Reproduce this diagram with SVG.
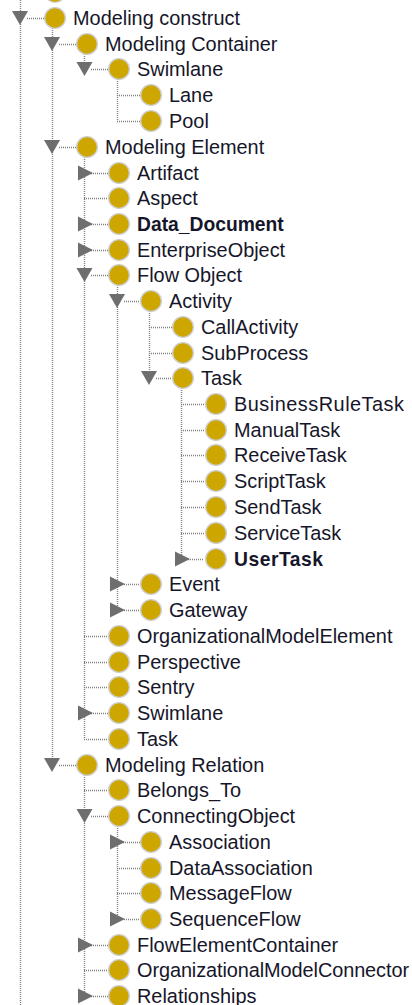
<svg xmlns="http://www.w3.org/2000/svg" width="412" height="1005" viewBox="0 0 412 1005">
<style>
text{font-family:"Liberation Sans",Arial,sans-serif;font-size:19.9px;fill:#16162a}
.b{font-weight:bold;font-size:19.3px}
.l{stroke:#808080;stroke-width:1.4;stroke-dasharray:1 1;fill:none}
.c{fill:#cea600;stroke:#cfcfcf;stroke-width:1.4}
.t{fill:#6e6e6e}
</style>
<defs>
<circle id="o" class="c" r="10.4"/>
<polygon id="d" class="t" points="-8,-7 8,-7 0,7"/>
<polygon id="r" class="t" points="-6,-7.500 -6,7.500 9,0"/>
</defs>
<rect width="412" height="1005" fill="#fff"/>
<g id="connectors" class="l">
<path d="M20.500 0V1005M52.500 24V765M84.500 44V69M84.500 147V739M84.500 765V996M117.500 69V121M117.500 275V610M117.500 816V919M149.500 301V378M181.500 378V559"/>
<path d="M27 18.500H44M59 44.500H76M91 69.500H108M117 95.500H140M117 121.500H140M59 147.500H76M91 173.500H108M84 198.500H108M91 224.500H108M91 250.500H108M91 275.500H108M124 301.500H140M149 327.500H172M149 353.500H172M156 378.500H172M181 404.500H204M181 430.500H204M181 455.500H204M181 481.500H204M181 507.500H204M181 533.500H204M188 559.500H204M124 584.500H140M124 610.500H140M84 636.500H108M84 662.500H108M84 687.500H108M91 713.500H108M84 739.500H108M59 765.500H76M84 790.500H108M91 816.500H108M117 842.500H140M117 868.500H140M117 893.500H140M124 919.500H140M91 945.500H108M84 970.500H108M91 996.500H108"/>
</g>
<g id="n0"><use href="#o" x="55" y="-8"/></g>
<g id="n1"><use href="#d" x="20" y="18"/><use href="#o" x="55" y="18"/><text x="73" y="25">Modeling construct</text></g>
<g id="n2"><use href="#d" x="52" y="44"/><use href="#o" x="87" y="44"/><text x="105" y="51">Modeling Container</text></g>
<g id="n3"><use href="#d" x="84.500" y="69"/><use href="#o" x="119" y="69"/><text x="137" y="76">Swimlane</text></g>
<g id="n4"><use href="#o" x="151" y="95"/><text x="169" y="102">Lane</text></g>
<g id="n5"><use href="#o" x="151" y="121"/><text x="169" y="128">Pool</text></g>
<g id="n6"><use href="#d" x="52" y="147"/><use href="#o" x="87" y="147"/><text x="105" y="154">Modeling Element</text></g>
<g id="n7"><use href="#r" x="84" y="173"/><use href="#o" x="119" y="173"/><text x="137" y="180">Artifact</text></g>
<g id="n8"><use href="#o" x="119" y="198"/><text x="137" y="205">Aspect</text></g>
<g id="n9"><use href="#r" x="84" y="224"/><use href="#o" x="119" y="224"/><text x="137" y="231" class="b">Data_Document</text></g>
<g id="n10"><use href="#r" x="84" y="250"/><use href="#o" x="119" y="250"/><text x="137" y="257">EnterpriseObject</text></g>
<g id="n11"><use href="#d" x="84.500" y="275"/><use href="#o" x="119" y="275"/><text x="137" y="282">Flow Object</text></g>
<g id="n12"><use href="#d" x="117" y="301"/><use href="#o" x="151" y="301"/><text x="169" y="308">Activity</text></g>
<g id="n13"><use href="#o" x="183" y="327"/><text x="201" y="334">CallActivity</text></g>
<g id="n14"><use href="#o" x="183" y="353"/><text x="201" y="360">SubProcess</text></g>
<g id="n15"><use href="#d" x="149" y="378"/><use href="#o" x="183" y="378"/><text x="201" y="385">Task</text></g>
<g id="n16"><use href="#o" x="216" y="404"/><text x="234" y="411" textLength="170">BusinessRuleTask</text></g>
<g id="n17"><use href="#o" x="216" y="430"/><text x="234" y="437">ManualTask</text></g>
<g id="n18"><use href="#o" x="216" y="455"/><text x="234" y="462">ReceiveTask</text></g>
<g id="n19"><use href="#o" x="216" y="481"/><text x="234" y="488">ScriptTask</text></g>
<g id="n20"><use href="#o" x="216" y="507"/><text x="234" y="514">SendTask</text></g>
<g id="n21"><use href="#o" x="216" y="533"/><text x="234" y="540">ServiceTask</text></g>
<g id="n22"><use href="#r" x="181" y="559"/><use href="#o" x="216" y="559"/><text x="234" y="566" class="b" textLength="89">UserTask</text></g>
<g id="n23"><use href="#r" x="116" y="584"/><use href="#o" x="151" y="584"/><text x="169" y="591">Event</text></g>
<g id="n24"><use href="#r" x="116" y="610"/><use href="#o" x="151" y="610"/><text x="169" y="617">Gateway</text></g>
<g id="n25"><use href="#o" x="119" y="636"/><text x="137" y="643">OrganizationalModelElement</text></g>
<g id="n26"><use href="#o" x="119" y="662"/><text x="137" y="669">Perspective</text></g>
<g id="n27"><use href="#o" x="119" y="687"/><text x="137" y="694">Sentry</text></g>
<g id="n28"><use href="#r" x="84" y="713"/><use href="#o" x="119" y="713"/><text x="137" y="720">Swimlane</text></g>
<g id="n29"><use href="#o" x="119" y="739"/><text x="137" y="746">Task</text></g>
<g id="n30"><use href="#d" x="52" y="765"/><use href="#o" x="87" y="765"/><text x="105" y="772">Modeling Relation</text></g>
<g id="n31"><use href="#o" x="119" y="790"/><text x="137" y="797">Belongs_To</text></g>
<g id="n32"><use href="#d" x="84.500" y="816"/><use href="#o" x="119" y="816"/><text x="137" y="823">ConnectingObject</text></g>
<g id="n33"><use href="#r" x="116" y="842"/><use href="#o" x="151" y="842"/><text x="169" y="849">Association</text></g>
<g id="n34"><use href="#o" x="151" y="868"/><text x="169" y="875">DataAssociation</text></g>
<g id="n35"><use href="#o" x="151" y="893"/><text x="169" y="900">MessageFlow</text></g>
<g id="n36"><use href="#r" x="116" y="919"/><use href="#o" x="151" y="919"/><text x="169" y="926">SequenceFlow</text></g>
<g id="n37"><use href="#r" x="84" y="945"/><use href="#o" x="119" y="945"/><text x="137" y="952">FlowElementContainer</text></g>
<g id="n38"><use href="#o" x="119" y="970"/><text x="137" y="977" textLength="272">OrganizationalModelConnector</text></g>
<g id="n39"><use href="#r" x="84" y="996"/><use href="#o" x="119" y="996"/><text x="137" y="1003">Relationships</text></g>
</svg>
